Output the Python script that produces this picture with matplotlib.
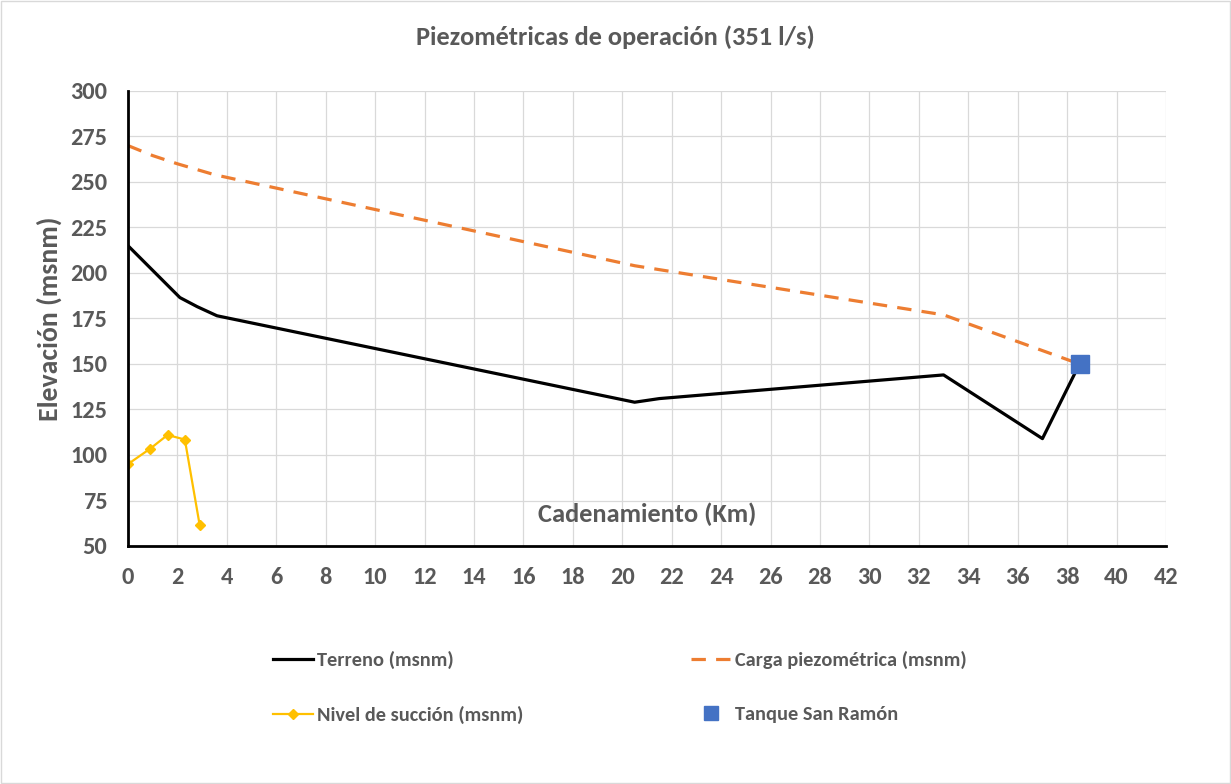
import matplotlib.pyplot as plt
from matplotlib.patches import Rectangle
from matplotlib import font_manager

# Datos
km_terreno = [0, 2.1, 2.8, 3.6, 20.5, 21.5, 33.0, 37.0, 38.5]
terreno = [215, 186.5, 181.5, 176.5, 129, 131, 144, 109, 150]

km_piezo = [0, 1.0, 2.0, 3.5, 20.5, 33.0, 38.5]
piezo = [270, 264.5, 260, 254, 204, 177, 150]

km_succion = [0, 0.9, 1.6, 2.3, 2.9]
succion = [95, 103.5, 111, 108.5, 61.5]

km_tanque = [38.5]
tanque = [150]

disponibles = {f.name for f in font_manager.fontManager.ttflist}
familia = [f for f in ['Carlito', 'Open Sans', 'Lato'] if f in disponibles]
plt.rcParams['font.family'] = familia + ['DejaVu Sans']
gris = '#595959'

fig = plt.figure(figsize=(12.31, 7.84), dpi=100)
ax = fig.add_axes([128 / 1231, 1 - 546 / 784, (1166 - 128) / 1231, (546 - 91) / 784])

ax.plot(km_terreno, terreno, color='black', lw=2.3, label='Terreno (msnm)')
ax.plot(km_succion, succion, color='#FFC000', lw=1.6, marker='D', markersize=5.5,
        label='Nivel de succión (msnm)')
ax.plot(km_piezo, piezo, color='#ED7D31', lw=2.3, dashes=(4.5, 3.2),
        label='Carga piezométrica (msnm)')
ax.plot(km_tanque, tanque, linestyle='none', marker='s', markersize=13,
        color='#4472C4', label='Tanque San Ramón')

ax.set_xlim(0, 42)
ax.set_ylim(50, 300)
ax.set_xticks(range(0, 43, 2))
ax.set_yticks(range(50, 301, 25))
ax.grid(True, color='#d9d9d9', lw=0.9)
ax.set_axisbelow(True)
for s in ['top', 'right']:
    ax.spines[s].set_visible(False)
for s in ['left', 'bottom']:
    ax.spines[s].set_linewidth(2)
    ax.spines[s].set_color('black')
ax.tick_params(axis='both', length=0, colors=gris, labelsize=17.5)
ax.tick_params(axis='x', pad=15)
ax.tick_params(axis='y', pad=15)
for lab in ax.get_xticklabels() + ax.get_yticklabels():
    lab.set_fontweight('bold')

ax.set_ylabel('Elevación (msnm)', fontsize=20, fontweight='bold', color=gris, labelpad=6)
ax.text(0.5, 0.07, 'Cadenamiento (Km)', transform=ax.transAxes, ha='center', va='center',
        fontsize=19, fontweight='bold', color=gris)
fig.text(0.5, 1 - 37 / 784, 'Piezométricas de operación (351 l/s)', ha='center', va='center',
         fontsize=19, fontweight='bold', color=gris)

h, l = ax.get_legend_handles_labels()
h[3] = plt.Line2D([], [], linestyle='none', marker='s', markersize=10, color='#4472C4')
leg = fig.legend(h, l, ncol=2, loc='center left', bbox_to_anchor=(273 / 1231, 1 - 687.5 / 784),
                 frameon=False, borderpad=0, borderaxespad=0, handlelength=1.95,
                 handletextpad=0.2, columnspacing=8.2, labelspacing=1.8,
                 prop={'weight': 'bold', 'size': 14.7})
for t in leg.get_texts():
    t.set_color(gris)

fig.patches.append(Rectangle((0.001, 0.001), 0.998, 0.998, transform=fig.transFigure,
                             fill=False, edgecolor='#d9d9d9', lw=1))

fig.savefig('out.png', dpi=100)
